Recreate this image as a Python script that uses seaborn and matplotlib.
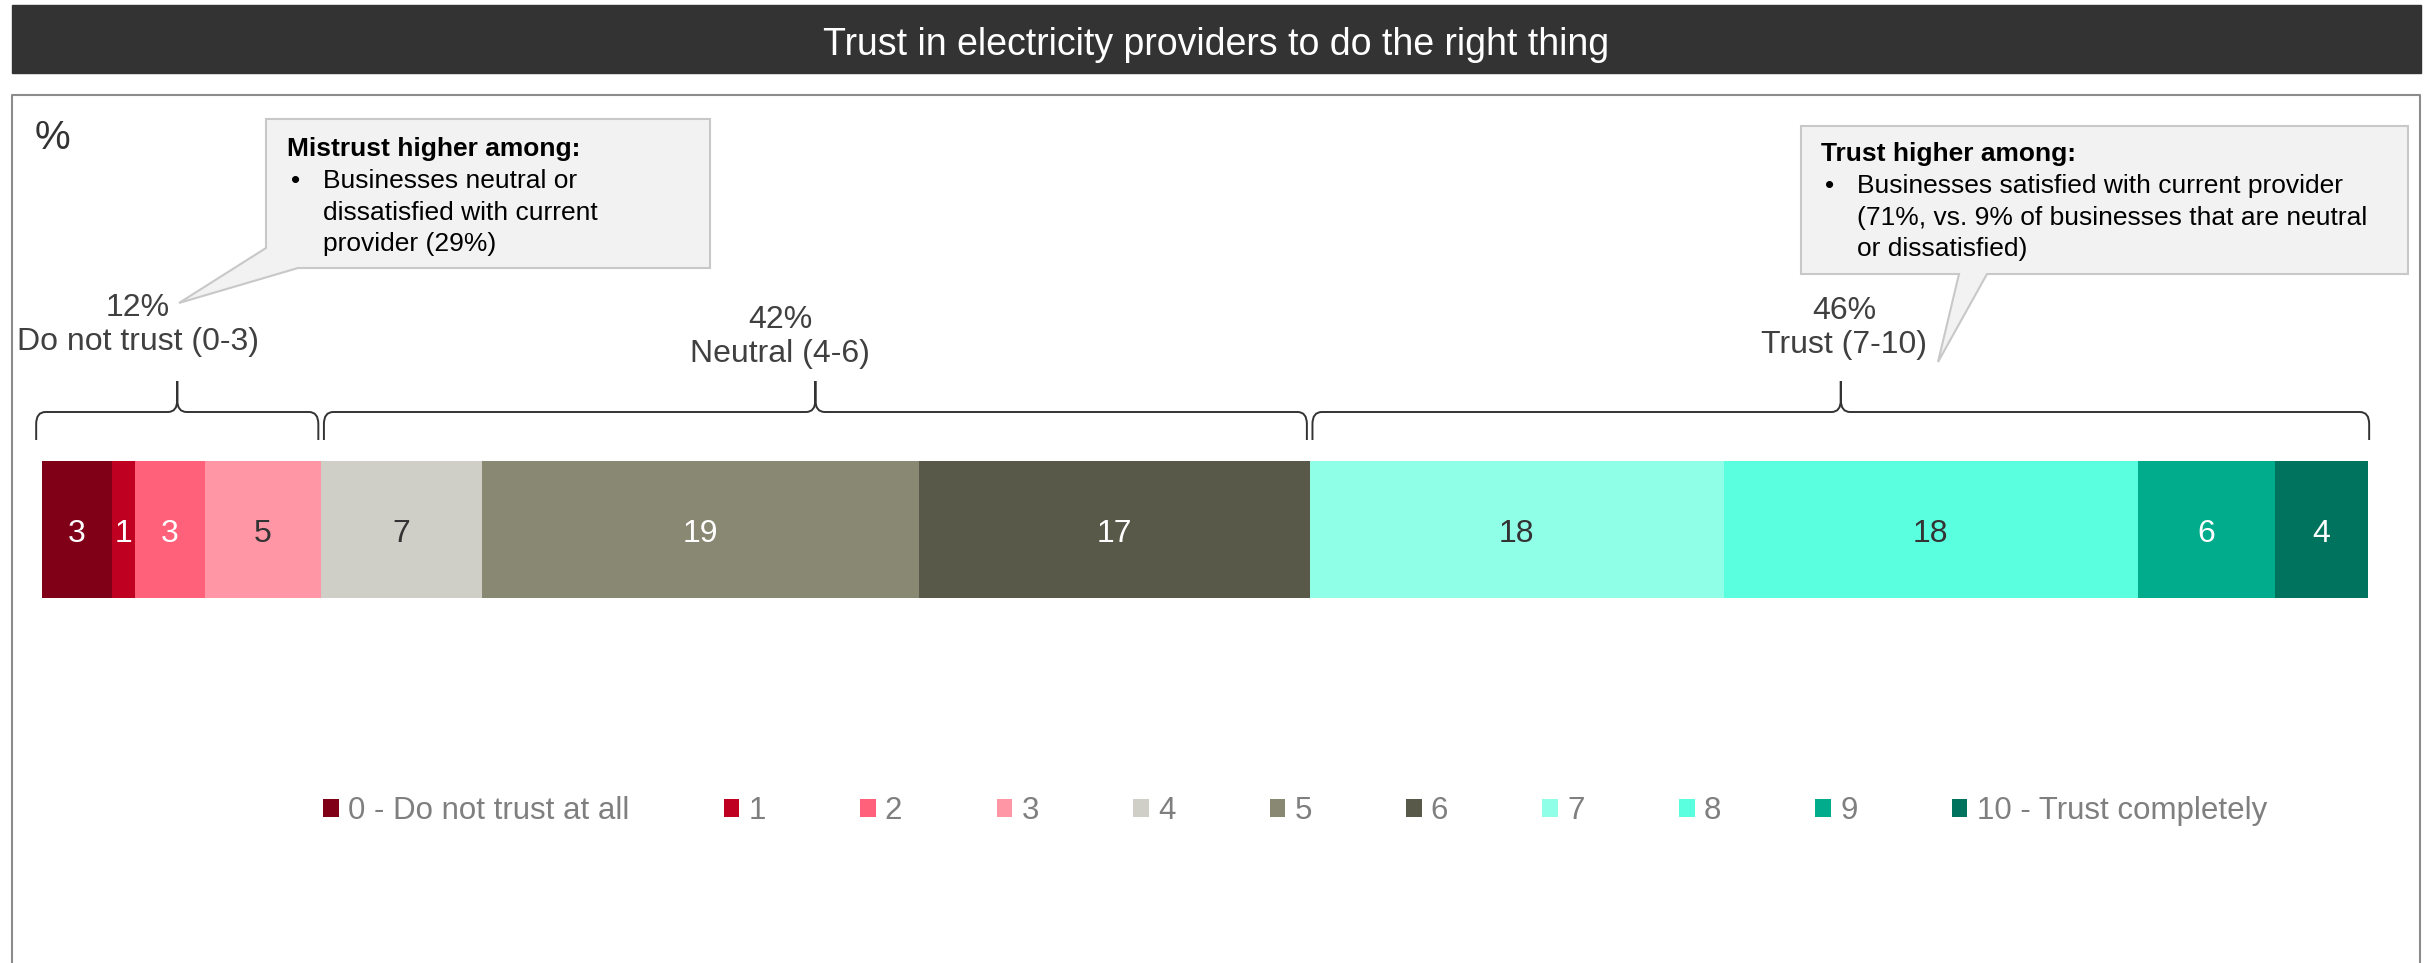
import numpy as np
import pandas as pd
import seaborn as sns
import matplotlib.pyplot as plt
from matplotlib.patches import Rectangle, Polygon, Patch, PathPatch
from matplotlib.path import Path
from matplotlib.transforms import blended_transform_factory

# data
scores = ["0", "1", "2", "3", "4", "5", "6", "7", "8", "9", "10"]
values = [3.0, 1.0, 3.0, 5.0, 6.9, 18.8, 16.8, 17.8, 17.8, 5.9, 4.0]
legend_labels = ["0 - Do not trust at all", "1", "2", "3", "4", "5", "6",
                 "7", "8", "9", "10 - Trust completely"]
colors = ["#800018", "#C00021", "#FF607A", "#FF96A6", "#CFCFC7", "#898872",
          "#59594A", "#90FFE8", "#5AFFE0", "#00AC8C", "#00735E"]
label_colors = ["white", "white", "white", "#333333", "#333333", "white",
                "white", "#333333", "#333333", "white", "white"]
groups = [(0, 3), (4, 6), (7, 10)]
group_pcts = ["12%", "42%", "46%"]
group_names = ["Do not trust (0-3)", "Neutral (4-6)", "Trust (7-10)"]
title = "Trust in electricity providers to do the right thing"

sns.set_theme(style="white")
plt.rcParams['font.family'] = ['Liberation Sans', 'DejaVu Sans']

W, H = 2433, 963
fig = plt.figure(figsize=(W / 100, H / 100), dpi=100)

# background layer in pixel coordinates
bg = fig.add_axes([0, 0, 1, 1])
bg.set_xlim(0, W)
bg.set_ylim(H, 0)
bg.axis('off')
bg.add_patch(Rectangle((12, 5), 2409, 68, color='#333333'))
bg.text(1216, 45, title, color='white', fontsize=27, ha='center', va='center')
bg.plot([12, 12, 2420, 2420], [H, 95, 95, H], color='#8C8C8C', lw=1.5)
bg.text(35, 138, "%", fontsize=29, ha='left', va='center', color='#333333')

# stacked bar
ax = fig.add_axes([42 / W, 1 - 598 / H, 2326 / W, 137 / H])
df = pd.DataFrame({"score": scores, "value": values})
df["end"] = df["value"].cumsum()
df["start"] = df["end"] - df["value"]
for i in reversed(range(len(df))):
    sns.barplot(x=[df["end"][i]], y=["all"], orient="h", color=colors[i],
                saturation=1, width=1, linewidth=0, errorbar=None, ax=ax)
for i, row in df.iterrows():
    ax.text(row["start"] + row["value"] / 2, 0.03, f"{round(row['value'])}",
            ha='center', va='center', fontsize=23, color=label_colors[i])
ax.set_xlim(0, 100)
ax.set_ylim(0.5, -0.5)
ax.axis('off')

# braces over the groups
tr = blended_transform_factory(ax.transData, bg.transData)


def brace(x0, x1):
    xm = (x0 + x1) / 2
    r = 0.4
    yl, yt, ye = 412, 381, 440
    verts = [(x0, ye), (x0, yl + 12), (x0, yl), (x0 + r, yl), (xm - r, yl),
             (xm, yl), (xm, yl - 12), (xm, yt),
             (xm, yt), (xm, yl - 12), (xm, yl), (xm + r, yl), (x1 - r, yl),
             (x1, yl), (x1, yl + 12), (x1, ye)]
    codes = [Path.MOVETO, Path.LINETO, Path.CURVE3, Path.CURVE3, Path.LINETO,
             Path.CURVE3, Path.CURVE3, Path.LINETO,
             Path.MOVETO, Path.LINETO, Path.CURVE3, Path.CURVE3, Path.LINETO,
             Path.CURVE3, Path.CURVE3, Path.LINETO]
    bg.add_patch(PathPatch(Path(verts, codes), fill=False, edgecolor='#333333',
                           lw=1.4, transform=tr, clip_on=False))


for k, (a, b) in enumerate(groups):
    x0 = df["start"][a]
    x1 = df["end"][b]
    brace(x0 - 0.25 if k == 0 else x0 + 0.12, x1 + 0.05 if k == 2 else x1 - 0.12)

label_pos = [(138, 325), (780, 337), (1844, 328)]
for (px, py), pct, name in zip(label_pos, group_pcts, group_names):
    bg.text(px, py, f"{pct}\n{name}", ha='center', va='center', fontsize=23,
            color='#404040', linespacing=1.15)

# callouts
box_fc, box_ec = '#F2F2F2', '#C8C8C8'
bg.add_patch(Polygon([(266, 119), (710, 119), (710, 268), (298, 268), (179, 303),
                      (266, 248)], closed=True, fc=box_fc, ec=box_ec, lw=1.5))
bg.add_patch(Polygon([(1801, 126), (2408, 126), (2408, 274), (1987, 274),
                      (1938, 362), (1959, 274), (1801, 274)], closed=True,
                     fc=box_fc, ec=box_ec, lw=1.5))

callouts = [
    ((287, 149), "Mistrust higher among:",
     ["Businesses neutral or", "dissatisfied with current", "provider (29%)"]),
    ((1821, 154), "Trust higher among:",
     ["Businesses satisfied with current provider",
      "(71%, vs. 9% of businesses that are neutral", "or dissatisfied)"]),
]
for (cx, cy), head, lines in callouts:
    bg.text(cx, cy, head, fontsize=19, fontweight='bold', color='black',
            ha='left', va='center')
    bg.text(cx + 4, cy + 32, "\u2022", fontsize=19, color='black', ha='left', va='center')
    for j, ln in enumerate(lines):
        bg.text(cx + 36, cy + 32 + j * 31.5, ln, fontsize=19, color='black',
                ha='left', va='center')

# legend
handles = [Patch(facecolor=c, edgecolor='none', label=l) for c, l in zip(colors, legend_labels)]
fig.legend(handles=handles, loc='center', bbox_to_anchor=(1295 / W, 1 - 811 / H), ncol=11,
           frameon=False, fontsize=22.5, labelcolor='#7F7F7F', handlelength=0.5,
           handleheight=0.5, handletextpad=0.29, columnspacing=3.02)

fig.savefig("out.png", dpi=100)
